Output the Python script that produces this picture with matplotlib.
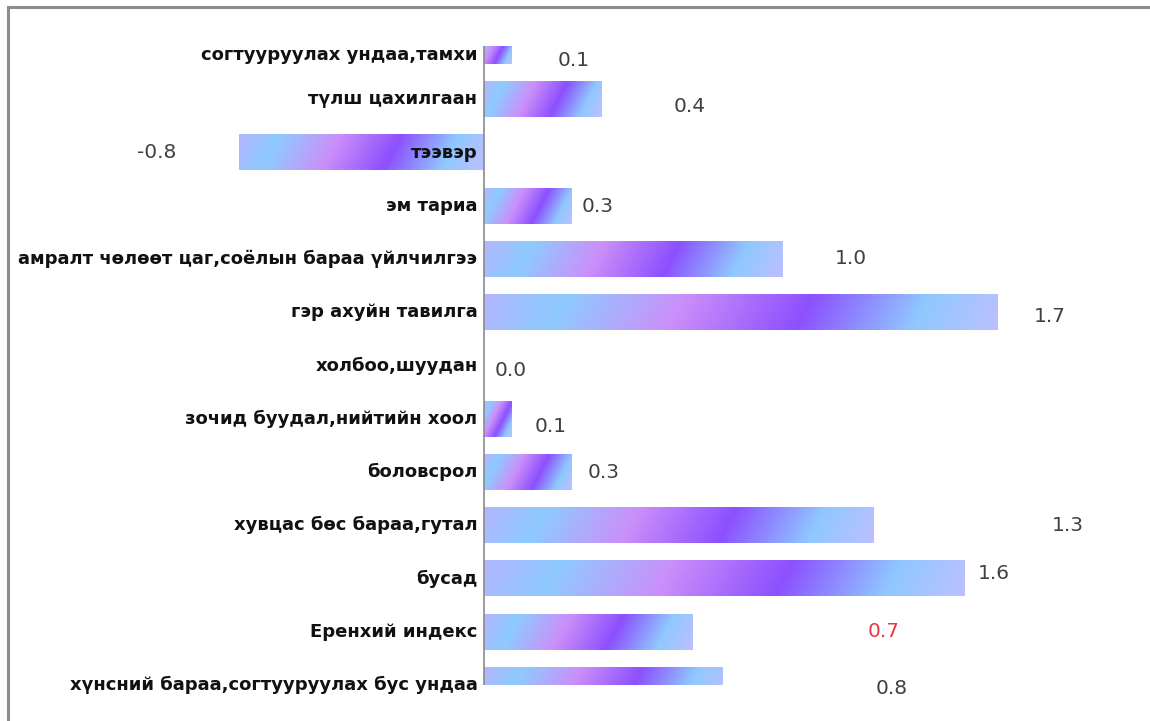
import matplotlib
matplotlib.use('Agg')
import matplotlib.pyplot as plt
import matplotlib.transforms as mtransforms
from matplotlib.colors import LinearSegmentedColormap
from matplotlib.lines import Line2D
import numpy as np


# data (top to bottom)
categories = [
    "согтууруулах ундаа,тамхи",
    "түлш цахилгаан",
    "тээвэр",
    "эм тариа",
    "амралт чөлөөт цаг,соёлын бараа үйлчилгээ",
    "гэр ахуйн тавилга",
    "холбоо,шуудан",
    "зочид буудал,нийтийн хоол",
    "боловсрол",
    "хувцас бөс бараа,гутал",
    "бусад",
    "Еренхий индекс",
    "хүнсний бараа,согтууруулах бус ундаа",
]
values = [0.09, 0.39, -0.81, 0.29, 0.99, 1.70, 0.0, 0.09, 0.29, 1.29, 1.59, 0.69, 0.79]
highlight = "Еренхий индекс"

# where each value label sits, pixels from the bar end (dx right, dy down)
label_dx = [63, 88, -82, 27, 68, 53, 27, 40, 33, 195, 30, 192, 170]
label_dy = [15, 7, 0, 1, -1, 4, 5, 8, 0, 0, -5, 0, 3]

# gradient used by Excel-like bars
grad = LinearSegmentedColormap.from_list("bars", [
    (0.00, "#b3b6ff"),
    (0.15, "#8ecbff"),
    (0.38, "#cb8ffa"),
    (0.62, "#8c50ff"),
    (0.84, "#90c8ff"),
    (1.00, "#bcc0ff"),
])

W, H, DPI = 1150, 721, 100
fig = plt.figure(figsize=(W / DPI, H / DPI), dpi=DPI)
fig.patch.set_facecolor("white")

# axes box in pixels: zero line at x=483.5, 302 px per unit, rows 46..685
px_per_unit = 302.0
zero_px = 483.5
top_px, bottom_px = 46, 685
ax = fig.add_axes([0, 1 - bottom_px / H, 1, (bottom_px - top_px) / H])
ax.set_xlim(-zero_px / px_per_unit, (W - zero_px) / px_per_unit)
n = len(categories)
ax.set_ylim(n - 1, 0)
ax.axis("off")

pos = np.arange(n)
bars = ax.barh(pos, values, height=0.676, color="none", edgecolor="none")

# fill each bar with a slanted gradient
slant = 0.5
for b in bars:
    x0, y0, w, h = b.get_x(), b.get_y(), b.get_width(), b.get_height()
    if abs(w) < 1e-9:
        continue
    w_px = abs(w) * px_per_unit
    h_px = h * (bottom_px - top_px) / (n - 1)
    cols = max(int(w_px), 2)
    rows = max(int(h_px), 2)
    cc, rr = np.meshgrid(np.linspace(0, w_px, cols), np.linspace(0, h_px, rows))
    t = (cc + slant * rr) / (w_px + slant * h_px)
    left = min(x0, x0 + w)
    right = max(x0, x0 + w)
    ax.imshow(grad(t), extent=(left, right, y0 + h, y0), origin="upper",
              aspect="auto", interpolation="bilinear", zorder=2)

ax.set_xlim(-zero_px / px_per_unit, (W - zero_px) / px_per_unit)
ax.set_ylim(n - 1, 0)

# zero line
ax.axvline(0, color="#8a8a8a", lw=1.2, zorder=3)

# category labels next to the zero line
lab_tr = mtransforms.offset_copy(ax.transData, fig=fig, x=-6, y=0, units="dots")
for i, name in enumerate(categories):
    ax.text(0, i, name, transform=lab_tr, ha="right",
            va="top" if i == 0 else "center",
            fontsize=13, fontweight="bold", color="#111111", zorder=4,
            clip_on=False)

# value labels
for i, v in enumerate(values):
    tr = mtransforms.offset_copy(ax.transData, fig=fig, x=label_dx[i], y=-label_dy[i], units="dots")
    col = "#e8393f" if categories[i] == highlight else "#404040"
    ax.text(v, i, f"{v:.1f}", transform=tr, ha="center", va="center",
            fontsize=14.5, color=col, zorder=4, clip_on=False)

# chart frame (only top and left edges show in the crop)
fig.add_artist(Line2D([8 / W, 8 / W], [0, 1 - 7 / H], transform=fig.transFigure,
                      color="#8c8c8c", lw=2.2))
fig.add_artist(Line2D([8 / W, 1], [1 - 7 / H, 1 - 7 / H], transform=fig.transFigure,
                      color="#8c8c8c", lw=2.2))

fig.savefig("out.png", dpi=DPI)
